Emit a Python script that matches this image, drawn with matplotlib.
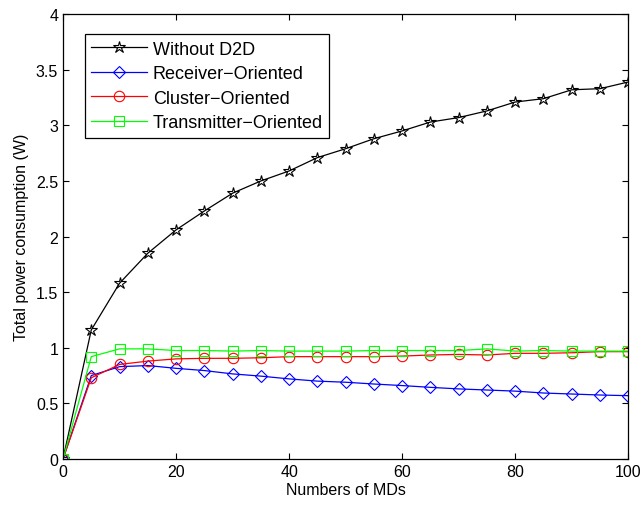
import matplotlib
matplotlib.use('Agg')
import matplotlib.pyplot as plt

# Data
mds = [0, 5, 10, 15, 20, 25, 30, 35, 40, 45, 50, 55, 60, 65, 70, 75, 80, 85, 90, 95, 100]
without_d2d = [0, 1.16, 1.58, 1.85, 2.06, 2.23, 2.39, 2.50, 2.59, 2.71, 2.79,
               2.88, 2.95, 3.03, 3.07, 3.13, 3.21, 3.24, 3.32, 3.33, 3.39]
receiver = [0, 0.75, 0.83, 0.84, 0.815, 0.795, 0.765, 0.745, 0.72, 0.70, 0.69,
            0.674, 0.66, 0.644, 0.63, 0.62, 0.61, 0.593, 0.584, 0.575, 0.569]
cluster = [0, 0.73, 0.85, 0.88, 0.90, 0.905, 0.905, 0.91, 0.92, 0.92, 0.92,
           0.92, 0.925, 0.935, 0.94, 0.935, 0.95, 0.95, 0.955, 0.965, 0.965]
transmitter = [0, 0.92, 0.99, 0.99, 0.975, 0.975, 0.97, 0.975, 0.97, 0.97, 0.97,
               0.975, 0.975, 0.975, 0.975, 0.99, 0.97, 0.975, 0.97, 0.97, 0.97]

plt.rcParams['font.family'] = ['Liberation Sans', 'DejaVu Sans']

fig = plt.figure(figsize=(6.43, 5.06), dpi=100)
ax = fig.add_axes([0.098, 0.091, 0.879, 0.879])

ax.plot(mds, without_d2d, '-', color='black', marker='*', markersize=9,
        markerfacecolor='none', markeredgewidth=0.8, linewidth=0.9, label='Without D2D')
ax.plot(mds, receiver, '-', color='blue', marker='D', markersize=6,
        markerfacecolor='none', markeredgewidth=0.8, linewidth=0.9, label='Receiver\u2212Oriented')
ax.plot(mds, cluster, '-', color='red', marker='o', markersize=7.5,
        markerfacecolor='none', markeredgewidth=0.8, linewidth=0.9, label='Cluster\u2212Oriented')
ax.plot(mds, transmitter, '-', color='#00ff00', marker='s', markersize=6.5,
        markerfacecolor='none', markeredgewidth=0.8, linewidth=0.9, label='Transmitter\u2212Oriented')

ax.set_xlim(0, 100)
ax.set_ylim(0, 4)
ax.set_xticks(range(0, 101, 20))
ax.set_yticks([0, 0.5, 1, 1.5, 2, 2.5, 3, 3.5, 4])
ax.set_yticklabels(['0', '0.5', '1', '1.5', '2', '2.5', '3', '3.5', '4'])
ax.tick_params(direction='in', top=True, right=True, labelsize=11.5, length=4)
for s in ax.spines.values():
    s.set_linewidth(0.9)
ax.set_xlabel('Numbers of MDs', fontsize=11.5, labelpad=2)
ax.set_ylabel('Total power consumption (W)', fontsize=11.5, labelpad=5)

leg = ax.legend(loc='upper left', bbox_to_anchor=(0.039, 0.955), borderaxespad=0,
                fontsize=13, fancybox=False, edgecolor='black', framealpha=1,
                handlelength=3.1, borderpad=0.35, labelspacing=0.42, handletextpad=0.3)
leg.get_frame().set_linewidth(0.9)

fig.savefig('out.png', dpi=100)
